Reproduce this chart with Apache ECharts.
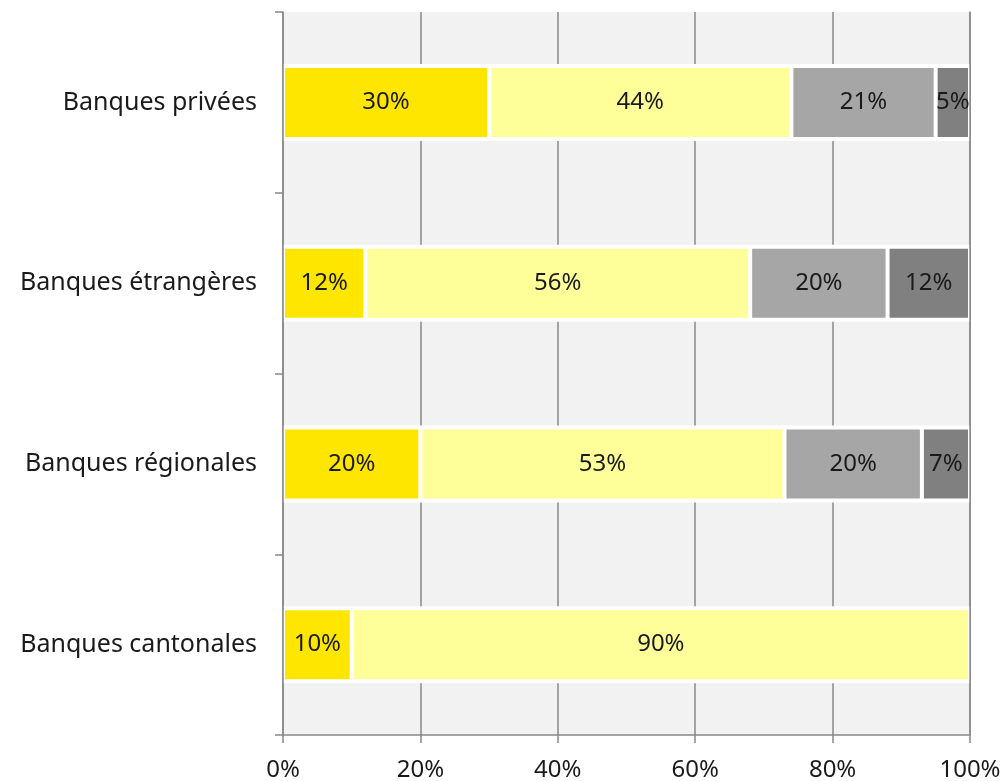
<!DOCTYPE html>
<html>
<head>
<meta charset="utf-8">
<script src="https://cdn.jsdelivr.net/npm/echarts@6/dist/echarts.min.js"></script>
<style>
html,body{margin:0;padding:0;background:#fff;}
#chart{width:1006px;height:781px;}
</style>
</head>
<body>
<div id="chart"></div>
<script>
var categories = ['Banques privées', 'Banques étrangères', 'Banques régionales', 'Banques cantonales'];
var seg1 = [30, 12, 20, 10];
var seg2 = [44, 56, 53, 90];
var seg3 = [21, 20, 20, 0];
var seg4 = [5, 12, 7, 0];
var xTicks = [0, 20, 40, 60, 80, 100];

var colors = ['#FFE600', '#FFFF99', '#A6A6A6', '#808080'];
var FONT = 'Noto Sans';
var AXIS_GRAY = '#888888';

var totals = categories.map(function (c, i) { return seg1[i] + seg2[i] + seg3[i] + seg4[i]; });

function mk(vals, color) {
  return {
    type: 'bar',
    stack: 'total',
    barWidth: 73,
    yAxisIndex: 0,
    data: vals.map(function (v) { return v === 0 ? '-' : v; }),
    itemStyle: { color: color, borderColor: '#ffffff', borderWidth: 2 },
    label: {
      show: true,
      position: 'inside',
      formatter: function (p) { return p.value ? p.value + '%' : ''; },
      color: '#1a1a1a',
      fontFamily: FONT,
      fontSize: 24
    },
    z: 3
  };
}

var chart = echarts.init(document.getElementById('chart'));
chart.setOption({
  animation: false,
  backgroundColor: '#ffffff',
  grid: {
    left: 283, right: 36, top: 12, bottom: 46,
    outerBoundsMode: 'none',
    containLabel: false,
    show: true, backgroundColor: '#F2F2F2', borderWidth: 0
  },
  xAxis: {
    type: 'value',
    min: xTicks[0], max: xTicks[xTicks.length - 1], interval: 20,
    axisLine: { show: true, lineStyle: { color: AXIS_GRAY, width: 1.5 } },
    axisTick: { show: true, length: 8, lineStyle: { color: AXIS_GRAY, width: 1.5 } },
    splitLine: { show: true, lineStyle: { color: AXIS_GRAY, width: 1.5 } },
    axisLabel: {
      formatter: '{value}%', color: '#1a1a1a', fontFamily: FONT, fontSize: 24, margin: 23
    }
  },
  yAxis: [{
    type: 'category',
    inverse: true,
    data: categories,
    axisLine: { show: true, lineStyle: { color: AXIS_GRAY, width: 1.5 } },
    axisTick: { show: true, length: 8, alignWithLabel: false, lineStyle: { color: AXIS_GRAY, width: 1.5 } },
    axisLabel: { color: '#1a1a1a', fontFamily: FONT, fontSize: 25, margin: 26 },
    splitLine: { show: false },
    z: 5
  }, {
    type: 'category',
    inverse: true,
    position: 'right',
    data: categories,
    axisLine: { show: true, lineStyle: { color: AXIS_GRAY, width: 1.5 } },
    axisTick: { show: false },
    axisLabel: { show: false },
    splitLine: { show: false },
    z: 5
  }],
  series: [{
    type: 'bar',
    yAxisIndex: 1,
    barWidth: 77,
    data: totals,
    silent: true,
    itemStyle: { color: '#ffffff' },
    label: { show: false },
    z: 2
  }, mk(seg1, colors[0]), mk(seg2, colors[1]), mk(seg3, colors[2]), mk(seg4, colors[3])]
});
</script>
</body>
</html>
